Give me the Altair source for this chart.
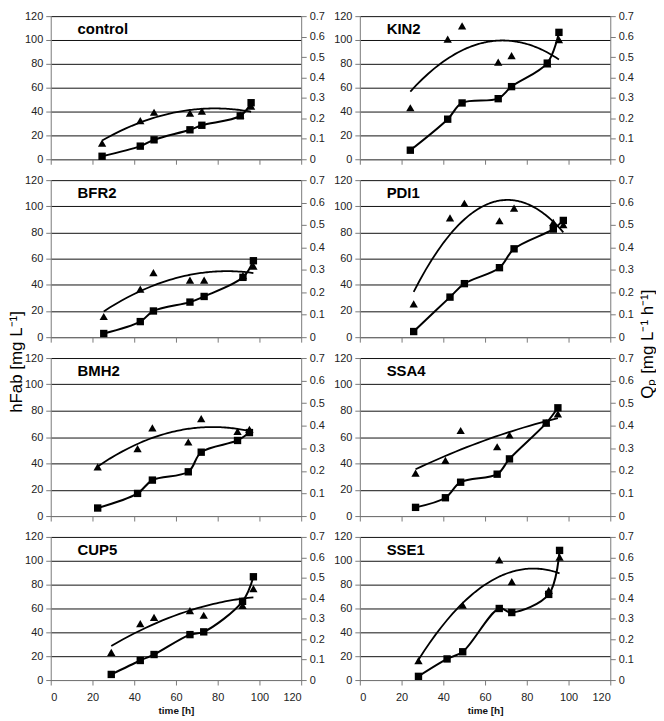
import altair as alt
import pandas as pd

# ---------------- data ----------------
control_t = [24.6, 42.9, 49.5, 66.7, 72.4, 90.8, 96.0]
control_hfab = [2.5, 11.0, 16.3, 24.7, 28.5, 36.4, 47.4]
control_qp_t = [24.6, 42.9, 49.5, 66.7, 72.4, 90.8, 96.0]
control_qp = [0.079, 0.189, 0.230, 0.226, 0.235, 0.216, 0.260]

kin2_t = [24.2, 42.1, 49.0, 66.3, 72.7, 89.8, 95.4]
kin2_hfab = [7.6, 33.6, 47.2, 50.8, 60.9, 80.6, 106.4]
kin2_qp_t = [24.2, 42.1, 49.0, 66.3, 72.7, 89.8, 95.4]
kin2_qp = [0.252, 0.588, 0.652, 0.475, 0.507, 0.467, 0.585]

bfr2_t = [25.4, 42.9, 49.2, 66.7, 73.5, 92.1, 97.1]
bfr2_hfab = [2.8, 11.9, 20.0, 26.8, 31.1, 45.7, 58.4]
bfr2_qp_t = [25.4, 42.9, 49.2, 66.7, 73.5, 92.1, 97.1]
bfr2_qp = [0.092, 0.214, 0.288, 0.254, 0.254, 0.274, 0.317]

pdi1_t = [25.8, 43.2, 50.1, 66.9, 73.9, 92.7, 97.5]
pdi1_hfab = [4.3, 30.6, 40.9, 53.1, 67.5, 82.6, 89.2]
pdi1_qp_t = [25.8, 43.2, 50.1, 66.9, 73.9, 92.7, 97.5]
pdi1_qp = [0.148, 0.532, 0.597, 0.519, 0.575, 0.512, 0.502]

bmh2_t = [22.5, 41.6, 48.7, 65.9, 72.1, 89.5, 95.2]
bmh2_hfab = [6.1, 17.2, 27.3, 33.6, 48.5, 57.4, 63.4]
bmh2_qp_t = [22.5, 41.6, 48.7, 65.9, 72.1, 89.5, 95.2]
bmh2_qp = [0.218, 0.299, 0.391, 0.328, 0.432, 0.375, 0.384]

ssa4_t = [26.7, 41.0, 48.3, 65.8, 71.7, 89.3, 94.9]
ssa4_hfab = [6.6, 13.9, 25.7, 31.8, 43.4, 70.6, 82.2]
ssa4_qp_t = [26.7, 41.0, 48.3, 65.8, 71.7, 89.3, 94.9]
ssa4_qp = [0.190, 0.247, 0.379, 0.307, 0.359, 0.414, 0.453]

cup5_t = [29.0, 42.9, 49.5, 66.7, 73.3, 91.9, 97.1]
cup5_hfab = [4.7, 16.4, 21.4, 38.1, 40.4, 66.0, 86.6]
cup5_qp_t = [29.0, 42.9, 49.5, 66.7, 73.3, 91.9, 97.1]
cup5_qp = [0.135, 0.276, 0.307, 0.340, 0.317, 0.365, 0.447]

sse1_t = [28.1, 41.8, 49.3, 66.8, 72.8, 90.5, 95.7]
sse1_hfab = [3.1, 17.7, 23.7, 60.0, 56.6, 71.8, 108.7]
sse1_qp_t = [28.1, 49.3, 66.8, 72.8, 90.5, 95.7]
sse1_qp = [0.095, 0.366, 0.588, 0.481, 0.439, 0.601]

x_ticks = [0, 20, 40, 60, 80, 100, 120]
left_ticks = [0, 20, 40, 60, 80, 100, 120]
right_ticks = [0, 0.1, 0.2, 0.3, 0.4, 0.5, 0.6, 0.7]

left_title = "hFab [mg L⁻¹]"
right_title = "Qₚ [mg L⁻¹ h⁻¹]"
time_title = "time [h]"

# ---------------- style ----------------
F = "Liberation Sans"
AX = "#7a7a7a"
LBL = "#222222"
PW = 252
H = [144, 158, 159, 144]


def panel(name, t, hfab, qt, qp, h, bottom, side_title=None):
    sq = pd.DataFrame({"time": t, "hfab": hfab})
    tr = pd.DataFrame({"time": qt, "qp": qp})
    lab = pd.DataFrame({"label": [name]})

    xa = dict(values=x_ticks, grid=False, domainColor=AX, tickColor=AX,
              tickSize=5, labelFont=F, labelFontSize=11, labelColor=LBL,
              labelPadding=7, labels=bottom, labelOverlap=False)
    if bottom:
        xa.update(title=time_title, titleFont=F, titleFontSize=10,
                  titleFontWeight="bold", titleColor="#111", titlePadding=3)
    else:
        xa.update(title=None)
    x = alt.X("time:Q", scale=alt.Scale(domain=[0, 120], nice=False),
              axis=alt.Axis(**xa))

    yl = alt.Y("hfab:Q", scale=alt.Scale(domain=[0, 120], nice=False),
               axis=alt.Axis(orient="left", values=left_ticks, grid=True,
                             gridColor="#111111", gridWidth=1, gridOpacity=1,
                             domainColor=AX, tickColor=AX, tickSize=5,
                             labelFont=F, labelFontSize=11, labelColor=LBL,
                             labelPadding=3, labelOverlap=False, title=None))
    yr = alt.Y("qp:Q", scale=alt.Scale(domain=[0, 0.7], nice=False),
               axis=alt.Axis(orient="right", values=right_ticks, grid=False,
                             format="~g", domainColor=AX, tickColor=AX,
                             tickSize=5, labelFont=F, labelFontSize=11,
                             labelColor=LBL, labelPadding=3,
                             labelOverlap=False, title=None))

    sq_line = alt.Chart(sq).mark_line(color="black", strokeWidth=2,
                                      interpolate="catmull-rom").encode(x=x, y=yl)
    sq_pts = alt.Chart(sq).mark_square(color="black", size=55, opacity=1).encode(x=x, y=yl)
    lbl = alt.Chart(lab).mark_text(align="left", baseline="alphabetic", font=F,
                                   fontSize=15, fontWeight="bold",
                                   color="black").encode(
        x=alt.value(27), y=alt.value(18), text="label:N")

    trend = alt.Chart(tr).transform_regression(
        "time", "qp", method="poly", order=2
    ).mark_line(color="black", strokeWidth=1.8).encode(x=x, y=yr)
    tri = alt.Chart(tr).mark_point(shape="triangle-up", filled=True, size=70,
                                   color="black", opacity=1).encode(x=x, y=yr)

    layers = [alt.layer(trend, tri), alt.layer(sq_line, sq_pts), lbl]
    if side_title is not None:
        text, px, py = side_title
        layers.append(
            alt.Chart(pd.DataFrame({"t": [text]})).mark_text(
                angle=270, font=F, fontSize=17, align="center",
                baseline="middle", color="black"
            ).encode(text="t:N", x=alt.value(px), y=alt.value(py))
        )
    return alt.layer(*layers).resolve_scale(y="independent").properties(
        width=PW, height=h)


panels = [
    panel("control", control_t, control_hfab, control_qp_t, control_qp, H[0], False),
    panel("KIN2", kin2_t, kin2_hfab, kin2_qp_t, kin2_qp, H[0], False),
    panel("BFR2", bfr2_t, bfr2_hfab, bfr2_qp_t, bfr2_qp, H[1], False,
          (left_title, -33.5, 183)),
    panel("PDI1", pdi1_t, pdi1_hfab, pdi1_qp_t, pdi1_qp, H[1], False,
          (right_title, 290, 165)),
    panel("BMH2", bmh2_t, bmh2_hfab, bmh2_qp_t, bmh2_qp, H[2], False),
    panel("SSA4", ssa4_t, ssa4_hfab, ssa4_qp_t, ssa4_qp, H[2], False),
    panel("CUP5", cup5_t, cup5_hfab, cup5_qp_t, cup5_qp, H[3], True),
    panel("SSE1", sse1_t, sse1_hfab, sse1_qp_t, sse1_qp, H[3], True),
]

chart = alt.concat(
    *panels,
    columns=2,
    spacing={"row": 21, "column": 59},
    bounds="flush",
).properties(
    padding={"left": 0, "top": 0, "right": 0, "bottom": 0}
).configure_view(stroke=None)

chart.save("out.html", embed_options={"renderer": "svg", "actions": False})
